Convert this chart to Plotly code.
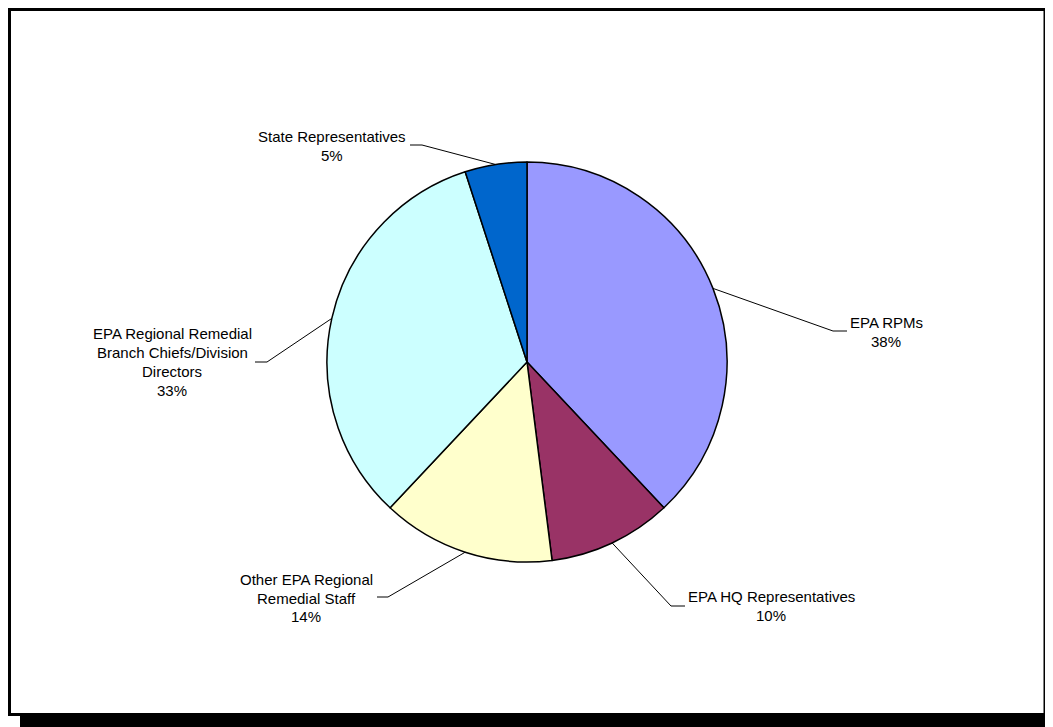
import math
import plotly.graph_objects as go

# ---- data ----
labels = ["EPA RPMs", "EPA HQ Representatives", "Other EPA Regional Remedial Staff",
          "EPA Regional Remedial Branch Chiefs/Division Directors", "State Representatives"]
label_lines = [["EPA RPMs"], ["EPA HQ Representatives"], ["Other EPA Regional", "Remedial Staff"],
               ["EPA Regional Remedial", "Branch Chiefs/Division", "Directors"], ["State Representatives"]]
values = [38, 10, 14, 33, 5]
colors = ["#9999FF", "#993366", "#FFFFCC", "#CCFFFF", "#0066CC"]

# ---- layout (pixel space of the 1053x727 page) ----
W, H = 1053, 727
OFF = 8  # page body margin
FW, FH = W - OFF, H - OFF  # figure size that fits in the window
CX, CY, R = 527, 362, 200
label_pos = [(886, 332), (771, 606), (306, 598), (172, 362), (332, 146)]
elbow_pos = [(833, 331), (671, 606), (388, 597), (267, 362), (422, 145)]
tick_end_x = [847, 685, 377, 255, 410]
LINE_H = 18.8
FONT = "Arial, Liberation Sans, sans-serif"

fig = go.Figure()

cxp, cyp = CX - OFF, CY - OFF
fig.add_trace(go.Pie(
    labels=labels, values=values, sort=False, direction="clockwise", rotation=0,
    marker=dict(colors=colors, line=dict(color="black", width=1.5)),
    textinfo="none", hoverinfo="label+percent", showlegend=False,
    domain=dict(x=[(cxp - R) / FW, (cxp + R) / FW], y=[1 - (cyp + R) / FH, 1 - (cyp - R) / FH]),
))

shapes = []
# frame with drop shadow
shapes.append(dict(type="rect", xref="x", yref="y", x0=20, y0=19, x1=1080, y1=760,
                   fillcolor="black", line=dict(width=0), layer="below"))
shapes.append(dict(type="rect", xref="x", yref="y", x0=9.5, y0=9.5, x1=1045, y1=714.5,
                   fillcolor="white", line=dict(color="black", width=3), layer="below"))

annotations = []
total = sum(values)
cum = 0
for i, v in enumerate(values):
    mid = (cum + v / 2) / total * 2 * math.pi
    cum += v
    ax = CX + R * math.sin(mid)
    ay = CY - R * math.cos(mid)
    ex, ey = elbow_pos[i]
    path = f"M {ax:.1f},{ay:.1f} L {ex},{ey} L {tick_end_x[i]},{ey}"
    shapes.append(dict(type="path", xref="x", yref="y", path=path,
                       line=dict(color="black", width=1)))
    pct = round(v / total * 100)
    lines = label_lines[i] + [f"{pct}%"]
    n = len(lines)
    for j, line in enumerate(lines):
        annotations.append(dict(
            xref="x", yref="y", x=label_pos[i][0],
            y=label_pos[i][1] + (j - (n - 1) / 2) * LINE_H,
            text=line, showarrow=False,
            xanchor="center", yanchor="middle", align="center",
            font=dict(family=FONT, size=15, color="black")))

fig.update_layout(
    width=FW, height=FH, margin=dict(l=0, r=0, t=0, b=0),
    paper_bgcolor="white", plot_bgcolor="white",
    xaxis=dict(range=[OFF, W], visible=False, fixedrange=True),
    yaxis=dict(range=[H, OFF], visible=False, fixedrange=True),
    shapes=shapes, annotations=annotations,
)

fig.write_html("out.html")
